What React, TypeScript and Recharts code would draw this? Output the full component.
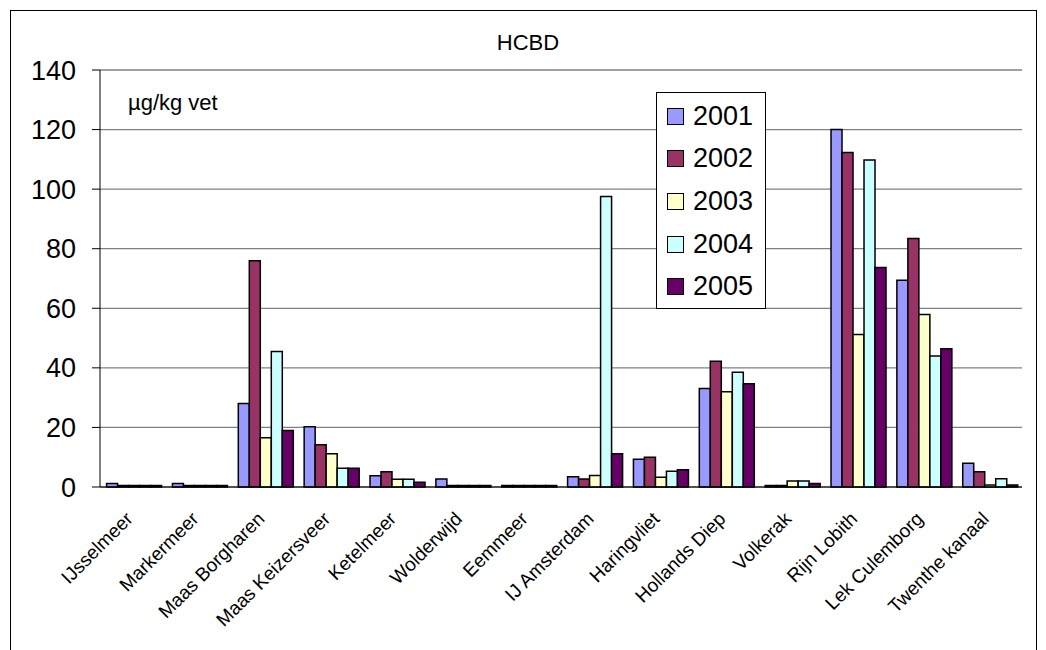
import { BarChart, Bar, XAxis, YAxis, CartesianGrid } from "recharts";

const categories = [
  "IJsselmeer",
  "Markermeer",
  "Maas Borgharen",
  "Maas Keizersveer",
  "Ketelmeer",
  "Wolderwijd",
  "Eemmeer",
  "IJ Amsterdam",
  "Haringvliet",
  "Hollands Diep",
  "Volkerak",
  "Rijn Lobith",
  "Lek Culemborg",
  "Twenthe kanaal",
];

const years = ["2001", "2002", "2003", "2004", "2005"];
const v2001 = [1.2, 1.2, 28, 20.2, 3.8, 2.7, 0.5, 3.4, 9.3, 33.1, 0.5, 120, 69.4, 8];
const v2002 = [0.5, 0.5, 76, 14.2, 5.1, 0.5, 0.5, 2.7, 10, 42.2, 0.5, 112.3, 83.4, 5.1];
const v2003 = [0.5, 0.5, 16.5, 11.2, 2.6, 0.5, 0.5, 3.9, 3.3, 32, 2, 51.2, 57.9, 0.7];
const v2004 = [0.5, 0.5, 45.5, 6.3, 2.6, 0.5, 0.5, 97.5, 5.3, 38.5, 2, 109.8, 44, 2.8];
const v2005 = [0.5, 0.5, 19, 6.3, 1.6, 0.5, 0.5, 11.2, 5.8, 34.7, 1.2, 73.7, 46.4, 0.7];
const yTicks = [0, 20, 40, 60, 80, 100, 120, 140];

const COLORS = ["#9999ff", "#993366", "#ffffcc", "#ccffff", "#660066"];
const series = [v2001, v2002, v2003, v2004, v2005];
const FONT = "'Liberation Sans', Arial, sans-serif";

const data = categories.map((name, i) => {
  const row: Record<string, string | number> = { name };
  years.forEach((y, k) => (row[y] = series[k][i]));
  return row;
});

// ticks sit between the categories, like the original
const boundaryTicks = [...categories.map((_, i) => i), categories.length];

function CatTick({ x, y, payload }: any) {
  return (
    <g transform={`translate(${x + 1},${y + 23})`}>
      <text textAnchor="end" transform="rotate(-45)" fontSize={19} fontFamily={FONT} fill="#000">
        {payload.value}
      </text>
    </g>
  );
}

function LegendBox() {
  return (
    <div
      style={{
        position: "absolute",
        left: 656,
        top: 92,
        border: "1px solid #000",
        background: "#fff",
        width: 108,
        paddingTop: 2,
        fontFamily: FONT,
      }}
    >
      {years.map((y, k) => (
        <div key={y} style={{ height: 42.6, display: "flex", alignItems: "center", paddingLeft: 10 }}>
          <span style={{ width: 15, height: 15, border: "1px solid #000", background: COLORS[k], marginRight: 9 }} />
          <span style={{ fontSize: 27, lineHeight: "27px" }}>{y}</span>
        </div>
      ))}
    </div>
  );
}

export default function App() {
  return (
    <div style={{ position: "absolute", left: 0, top: 0, width: 1046, height: 650, overflow: "hidden", background: "#fff" }}>
      <div style={{ position: "absolute", left: 10, top: 10, width: 1025, height: 700, border: "1px solid #000" }} />
      <div style={{ position: "absolute", left: 428, top: 32, width: 200, textAlign: "center", fontFamily: FONT, fontSize: 22, lineHeight: "22px" }}>
        HCBD
      </div>
      <div style={{ position: "absolute", left: 128, top: 92, fontFamily: FONT, fontSize: 22, lineHeight: "22px" }}>
        µg/kg vet
      </div>
      <div style={{ position: "absolute", left: 0, top: 0 }}>
        <BarChart
          width={1046}
          height={650}
          data={data}
          margin={{ top: 70, right: 24, left: 0, bottom: 55 }}
          barCategoryGap="10%"
          barGap={0}
        >
          <CartesianGrid vertical={false} stroke="#808080" strokeWidth={1.3} xAxisId="a" />
          <XAxis
            xAxisId="a"
            type="number"
            domain={[0, categories.length]}
            ticks={boundaryTicks}
            allowDataOverflow
            height={8}
            tick={false}
            tickSize={6}
            axisLine={{ stroke: "#000" }}
            tickLine={{ stroke: "#000" }}
          />
          <XAxis
            xAxisId="b"
            dataKey="name"
            interval={0}
            height={100}
            axisLine={false}
            tickLine={false}
            tickSize={0}
            tick={<CatTick />}
          />
          <YAxis
            width={100}
            domain={[0, 140]}
            ticks={yTicks}
            interval={0}
            tickSize={8}
            tickMargin={16}
            axisLine={{ stroke: "#000" }}
            tickLine={{ stroke: "#000" }}
            tick={{ fontSize: 27, fill: "#000", fontFamily: FONT }}
          />
          {years.map((y, k) => (
            <Bar
              key={y}
              xAxisId="b"
              dataKey={y}
              fill={COLORS[k]}
              stroke="#000"
              strokeWidth={1.5}
              isAnimationActive={false}
            />
          ))}
        </BarChart>
      </div>
      <LegendBox />
    </div>
  );
}
